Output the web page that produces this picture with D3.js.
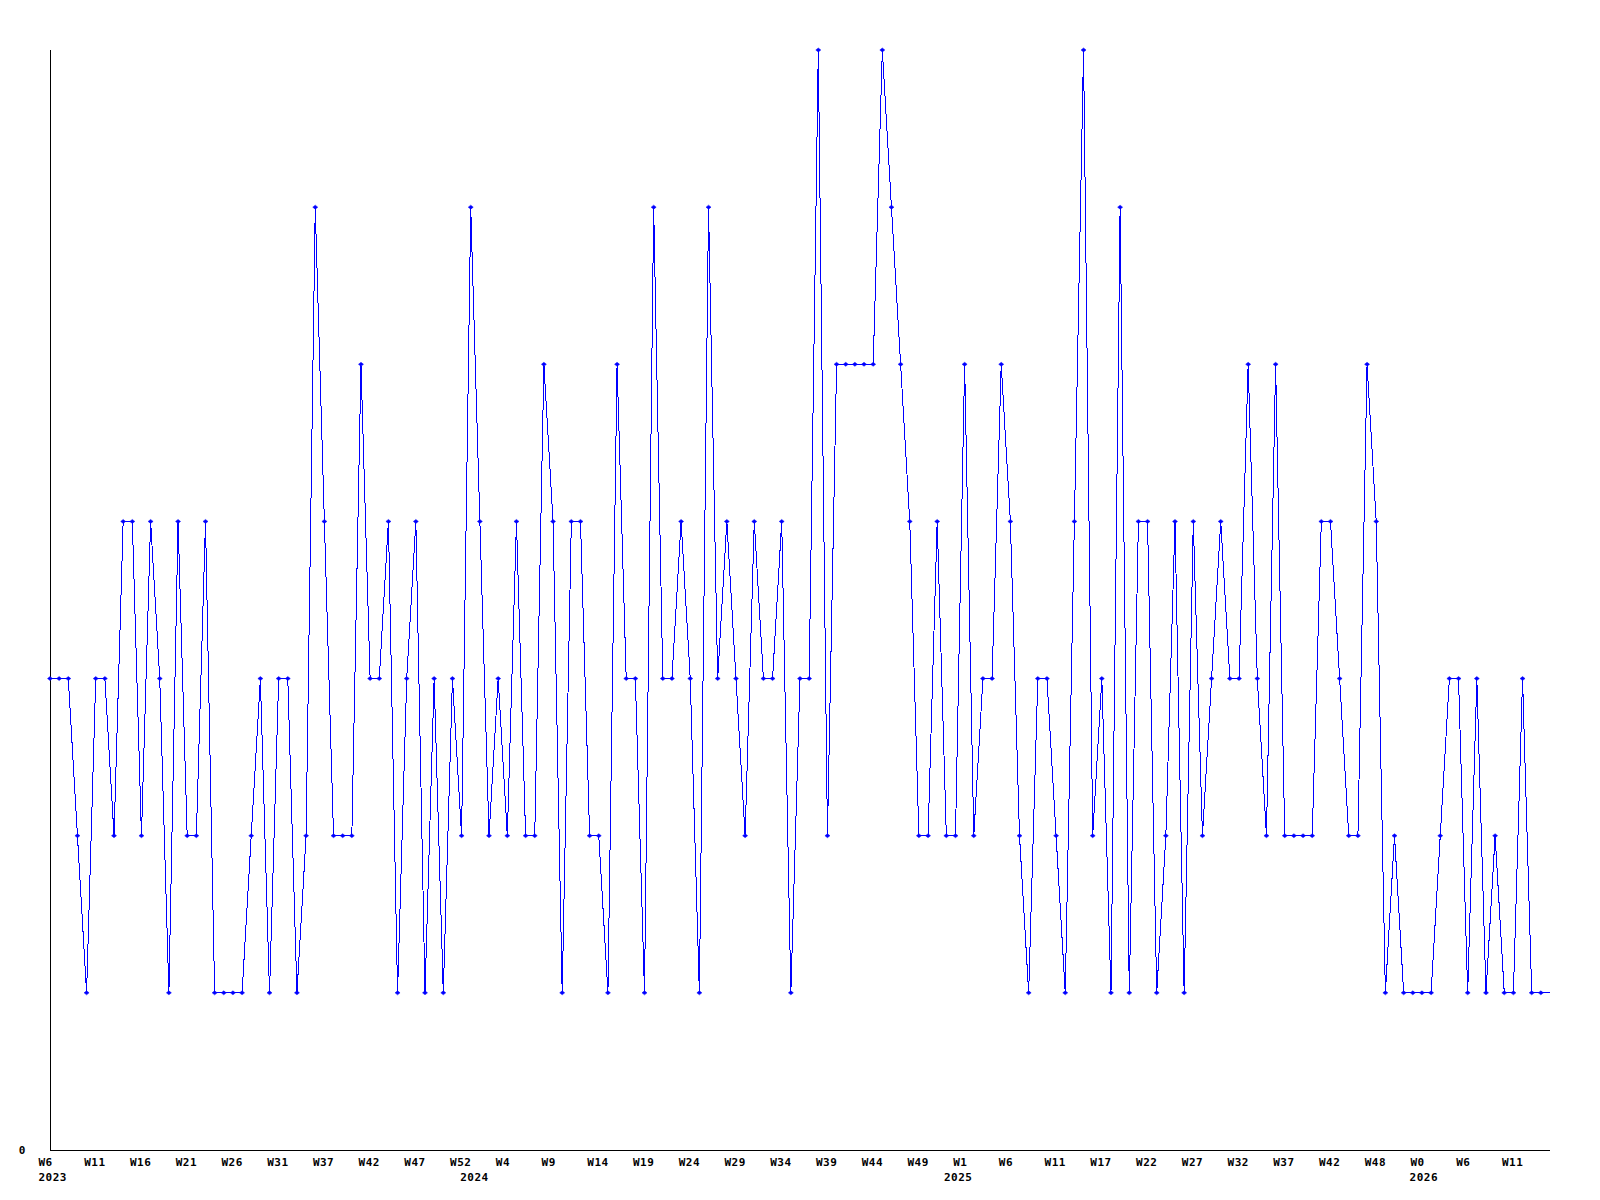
<!DOCTYPE html>
<html>
<head>
<meta charset="utf-8">
<script src="https://d3js.org/d3.v7.min.js"></script>
<style>
  body { margin: 0; background: #fff; }
  svg text { font-family: "DejaVu Sans Mono", monospace; font-weight: bold; font-size: 11px; fill: #000; }
</style>
</head>
<body>
<svg id="chart" width="1600" height="1200"></svg>
<script>
// weekly counts, 2023 W6 .. 2026
const weekValues = [
    3, 3, 3, 2, 1, 3, 3, 2, 4, 4,
    2, 4, 3, 1, 4, 2, 2, 4, 1, 1,
    1, 1, 2, 3, 1, 3, 3, 1, 2, 6,
    4, 2, 2, 2, 5, 3, 3, 4, 1, 3,
    4, 1, 3, 1, 3, 2, 6, 4, 2, 3,
    2, 4, 2, 2, 5, 4, 1, 4, 4, 2,
    2, 1, 5, 3, 3, 1, 6, 3, 3, 4,
    3, 1, 6, 3, 4, 3, 2, 4, 3, 3,
    4, 1, 3, 3, 7, 2, 5, 5, 5, 5,
    5, 7, 6, 5, 4, 2, 2, 4, 2, 2,
    5, 2, 3, 3, 5, 4, 2, 1, 3, 3,
    2, 1, 4, 7, 2, 3, 1, 6, 1, 4,
    4, 1, 2, 4, 1, 4, 2, 3, 4, 3,
    3, 5, 3, 2, 5, 2, 2, 2, 2, 4,
    4, 3, 2, 2, 5, 4, 1, 2, 1, 1,
    1, 1, 2, 3, 3, 1, 3, 1, 2, 1,
    1, 3, 1, 1, 1
];

// one label every 5 weeks
const tickLabels = [
    "W6", "W11", "W16", "W21", "W26", "W31", "W37", "W42", "W47", "W52",
    "W4", "W9", "W14", "W19", "W24", "W29", "W34", "W39", "W44", "W49",
    "W1", "W6", "W11", "W17", "W22", "W27", "W32", "W37", "W42", "W48",
    "W0", "W6", "W11"
];
const tickEvery = 5;

const yearLabels = ["2023", "2024", "2025", "2026"];
const yearWeeks = [0, 46.1, 99, 149.9];

const yMax = 7;

const svg = d3.select("#chart");

const x = d3.scaleLinear()
    .domain([0, weekValues.length - 1])
    .range([50, 1550]);

const y = d3.scaleLinear()
    .domain([0, yMax])
    .range([1150, 50]);

const points = weekValues.map((v, i) => ({ i: i, v: v }));

// axes
svg.append("line")
    .attr("x1", x(0)).attr("x2", x(0))
    .attr("y1", y(0)).attr("y2", y(yMax))
    .attr("stroke", "#000")
    .attr("shape-rendering", "crispEdges");

svg.append("line")
    .attr("x1", x(0)).attr("x2", x(weekValues.length - 1))
    .attr("y1", y(0)).attr("y2", y(0))
    .attr("stroke", "#000")
    .attr("shape-rendering", "crispEdges");

svg.append("text")
    .attr("x", 22)
    .attr("y", y(0) + 4)
    .attr("text-anchor", "middle")
    .text("0");

svg.selectAll(".tick-label")
    .data(tickLabels)
    .enter().append("text")
    .attr("class", "tick-label")
    .attr("x", (d, k) => x(k * tickEvery) - 11.5)
    .attr("y", y(0) + 16)
    .attr("letter-spacing", "0.5")
    .text(d => d);

svg.selectAll(".year-label")
    .data(yearLabels)
    .enter().append("text")
    .attr("class", "year-label")
    .attr("x", (d, k) => x(yearWeeks[k]) - 11.5)
    .attr("y", y(0) + 31)
    .attr("letter-spacing", "0.5")
    .text(d => d);

// series
const line = d3.line()
    .x(d => x(d.i))
    .y(d => y(d.v));

svg.append("path")
    .datum(points)
    .attr("fill", "none")
    .attr("stroke", "#0000ff")
    .attr("stroke-width", 1)
    .attr("shape-rendering", "crispEdges")
    .attr("d", line);

// markers (the running week at the end has none)
svg.selectAll(".marker")
    .data(points.slice(0, -1))
    .enter().append("path")
    .attr("class", "marker")
    .attr("transform", d => "translate(" + x(d.i) + "," + y(d.v) + ")")
    .attr("d", "M-2.5,0L0,-2L2.5,0L0,2Z")
    .attr("fill", "#0000ff")
    .attr("stroke", "#0000ff")
    .attr("stroke-width", 0.5);
</script>
</body>
</html>
